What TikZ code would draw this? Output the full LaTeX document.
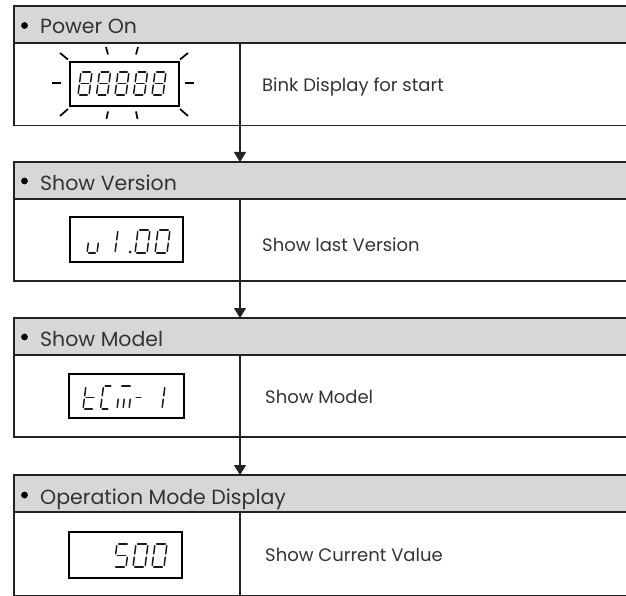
\documentclass[tikz,border=0pt]{standalone}
\usepackage{fontspec}
\setmainfont{Poppins}
\usetikzlibrary{arrows.meta}
\definecolor{txt}{HTML}{333333}
\definecolor{hdr}{HTML}{D7D7D7}
\definecolor{ln}{HTML}{222222}
\tikzset{
  hbox/.style={draw=ln, fill=hdr, line width=1.1pt, minimum width=616pt, minimum height=37pt,
    inner sep=0pt, outer sep=0pt, anchor=north west},
  lcell/.style={draw=ln, line width=1.1pt, minimum width=226pt, inner sep=0pt, outer sep=0pt, anchor=north west},
  rcell/.style={draw=ln, line width=1.1pt, minimum width=390pt, inner sep=0pt, outer sep=0pt, anchor=north west},
  htext/.style={anchor=base west, inner sep=0pt, text=txt, font=\fontsize{20.5}{24}\selectfont},
  dtext/.style={anchor=base west, inner sep=0pt, text=txt, font=\fontsize{18}{21}\selectfont},
  bul/.style={circle, fill=black, minimum size=6.8pt, inner sep=0pt},
  lcd/.style={draw=black, line width=1.9pt, inner sep=0pt, outer sep=0pt},
  seg/.style={draw=black!90, line width=1.5pt, line cap=round},
  ray/.style={draw=black, line width=1.7pt},
  flow/.style={draw=ln, line width=1.1pt, -{Triangle[width=12pt,length=10pt]}},
}
\def\zh{23}
\def\zg{1.7}
\def\zsa{\draw[seg] (\zg,-\zh) -- (\zw-\zg,-\zh);}
\def\zsb{\draw[seg] (\zw,-\zh+\zg) -- (\zw,-\zh/2-\zg);}
\def\zsc{\draw[seg] (\zw,-\zh/2+\zg) -- (\zw,-\zg);}
\def\zsd{\draw[seg] (\zg,0) -- (\zw-\zg,0);}
\def\zse{\draw[seg] (0,-\zg) -- (0,-\zh/2+\zg);}
\def\zsf{\draw[seg] (0,-\zh/2-\zg) -- (0,-\zh+\zg);}
\def\zsg{\draw[seg] (\zg,-\zh/2) -- (\zw-\zg,-\zh/2);}
\def\zsm{\draw[seg] (\zw/2,-\zg) -- (\zw/2,-\zh/2+\zg);}
% #1 x0, #2 baseline y, #3 segments, #4 width
\newcommand\segdigit[4]{%
  \begin{scope}[shift={(#1,#2)}, xslant=0.13]
    \def\zw{#4}%
    \foreach \s in {#3}{\csname zs\s\endcsname}
  \end{scope}}
\begin{document}
\begin{tikzpicture}[x=1pt,y=-1pt]
\useasboundingbox (0,0) rectangle (626,596);

% ---------- block 1
\node[hbox] (h1) at (14,6) {};
\node[lcell, minimum height=83pt] (l1) at (14,42.5) {};
\node[rcell, minimum height=83pt] (r1) at (240,42.5) {};
\node[bul] (b1) at (24.5,25.5) {};
\node[htext] (t1) at (40,33.5) {Power On};
\node[dtext] (d1) at (262,92) {Bink Display for start};
\node[lcd, minimum width=109pt, minimum height=44pt] (s1) at (124.5,84) {};
\foreach \x in {78,96.5,115,133.5,152}{\segdigit{\x}{95}{a,b,c,d,e,f,g}{11}}
\draw[ray] (52,83) -- (61,83);
\draw[ray] (185,83) -- (194,83);
\draw[ray] (60,53) -- (68,59.5);
\draw[ray] (106,47) -- (108,54.5);
\draw[ray] (138,47) -- (136,54.5);
\draw[ray] (188,53) -- (180,59.5);
\draw[ray] (60,116) -- (68,109);
\draw[ray] (108,111.5) -- (106.5,119);
\draw[ray] (136,111.5) -- (137.5,119);
\draw[ray] (180,109) -- (188,116);

% ---------- block 2
\node[hbox] (h2) at (14,162) {};
\node[lcell, minimum height=82pt] (l2) at (14,199) {};
\node[rcell, minimum height=82pt] (r2) at (240,199) {};
\node[bul] (b2) at (24.5,181) {};
\node[htext] (t2) at (40,190) {Show Version};
\node[dtext] (d2) at (262,251) {Show last Version};
\node[lcd, minimum width=113pt, minimum height=45pt] (s2) at (126.5,239.5) {};
\segdigit{87}{253}{e,d,c}{10}
\segdigit{103}{253}{b,c}{12}
\fill[black!90] (130,252) circle (1.5);
\segdigit{135}{253}{a,b,c,d,e,f}{12}
\segdigit{155}{253}{a,b,c,d,e,f}{12}

% ---------- block 3
\node[hbox] (h3) at (14,318) {};
\node[lcell, minimum height=82pt] (l3) at (14,355) {};
\node[rcell, minimum height=82pt] (r3) at (240,355) {};
\node[bul] (b3) at (24.5,337) {};
\node[htext] (t3) at (40,346) {Show Model};
\node[dtext] (d3) at (265,403) {Show Model};
\node[lcd, minimum width=115pt, minimum height=44pt] (s3) at (126.5,396) {};
\segdigit{83}{409}{f,e,g,d}{11}
\segdigit{100.5}{409}{a,f,e,d}{9}
\segdigit{117}{409}{a,e,c,m}{12}
\segdigit{133}{409}{g}{8}
\segdigit{150}{409}{b,c}{12}

% ---------- block 4
\node[hbox] (h4) at (14,475) {};
\node[lcell, minimum height=83pt] (l4) at (14,512.5) {};
\node[rcell, minimum height=83pt] (r4) at (240,512.5) {};
\node[bul] (b4) at (24.5,495) {};
\node[htext] (t4) at (40,504) {Operation Mode Display};
\node[dtext] (d4) at (265,561) {Show Current Value};
\node[lcd, minimum width=113pt, minimum height=46pt] (s4) at (125.5,555) {};
\segdigit{114}{567}{a,f,g,c,d}{12}
\segdigit{133}{567}{a,b,c,d,e,f}{12}
\segdigit{152}{567}{a,b,c,d,e,f}{12}

% ---------- connectors
\draw[flow] (l1.south east) -- (h2.north -| l1.south east);
\draw[flow] (l2.south east) -- (h3.north -| l2.south east);
\draw[flow] (l3.south east) -- (h4.north -| l3.south east);
\end{tikzpicture}
\end{document}
